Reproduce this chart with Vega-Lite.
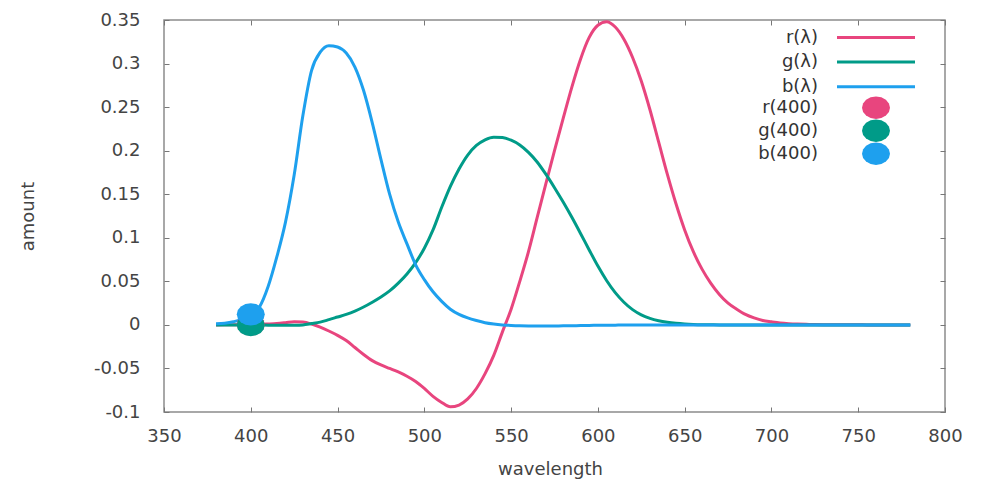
{
  "$schema": "https://vega.github.io/schema/vega-lite/v6.json",
  "width": 781,
  "height": 392,
  "autosize": "none",
  "padding": {"left": 164, "top": 20, "right": 39, "bottom": 70},
  "background": "white",
  "config": {
    "view": {"stroke": "#8c8c8c", "strokeWidth": 1.5},
    "font": "DejaVu Sans",
    "axis": {"domain": false, "grid": false, "tickColor": "#777", "tickWidth": 1, "tickSize": -5, "labelFont": "DejaVu Sans", "labelFontSize": 18, "labelColor": "#444", "titleFont": "DejaVu Sans", "titleFontSize": 18, "titleColor": "#444", "titleFontWeight": "normal", "labelFlush": false, "labelOverlap": false},
    "legend": {"title": null, "orient": "none", "padding": 0, "labelFont": "DejaVu Sans", "labelFontSize": 18, "labelColor": "#333", "labelAlign": "right", "labelLimit": 0}
  },
  "datasets": {
    "cmf": [
      {"w":380,"r":0.0000,"g":0.0000,"b":0.0012},
      {"w":385,"r":0.0001,"g":0.0000,"b":0.0019},
      {"w":390,"r":0.0001,"g":0.0000,"b":0.0036},
      {"w":395,"r":0.0002,"g":-0.0001,"b":0.0065},
      {"w":400,"r":0.0003,"g":-0.0001,"b":0.0121},
      {"w":405,"r":0.0005,"g":-0.0002,"b":0.0205},
      {"w":410,"r":0.0010,"g":-0.0003,"b":0.0440},
      {"w":415,"r":0.0016,"g":-0.0004,"b":0.0780},
      {"w":420,"r":0.0025,"g":-0.0005,"b":0.1180},
      {"w":425,"r":0.0035,"g":-0.0004,"b":0.1720},
      {"w":430,"r":0.0032,"g":0.0000,"b":0.2400},
      {"w":435,"r":0.0010,"g":0.0015,"b":0.2920},
      {"w":440,"r":-0.0026,"g":0.0032,"b":0.3130},
      {"w":445,"r":-0.0070,"g":0.0060,"b":0.3205},
      {"w":450,"r":-0.0120,"g":0.0090,"b":0.3190},
      {"w":455,"r":-0.0180,"g":0.0120,"b":0.3120},
      {"w":460,"r":-0.0260,"g":0.0158,"b":0.2960},
      {"w":465,"r":-0.0340,"g":0.0205,"b":0.2690},
      {"w":470,"r":-0.0410,"g":0.0260,"b":0.2320},
      {"w":475,"r":-0.0460,"g":0.0320,"b":0.1900},
      {"w":480,"r":-0.0500,"g":0.0390,"b":0.1500},
      {"w":485,"r":-0.0540,"g":0.0480,"b":0.1180},
      {"w":490,"r":-0.0590,"g":0.0585,"b":0.0930},
      {"w":495,"r":-0.0650,"g":0.0715,"b":0.0690},
      {"w":500,"r":-0.0730,"g":0.0880,"b":0.0520},
      {"w":505,"r":-0.0820,"g":0.1090,"b":0.0380},
      {"w":510,"r":-0.0890,"g":0.1350,"b":0.0270},
      {"w":515,"r":-0.0940,"g":0.1590,"b":0.0180},
      {"w":520,"r":-0.0920,"g":0.1790,"b":0.0120},
      {"w":525,"r":-0.0850,"g":0.1950,"b":0.0080},
      {"w":530,"r":-0.0730,"g":0.2060,"b":0.0050},
      {"w":535,"r":-0.0560,"g":0.2125,"b":0.0025},
      {"w":540,"r":-0.0350,"g":0.2155,"b":0.0010},
      {"w":545,"r":-0.0080,"g":0.2150,"b":0.0000},
      {"w":550,"r":0.0180,"g":0.2120,"b":-0.0006},
      {"w":555,"r":0.0500,"g":0.2065,"b":-0.0010},
      {"w":560,"r":0.0840,"g":0.1980,"b":-0.0012},
      {"w":565,"r":0.1230,"g":0.1870,"b":-0.0013},
      {"w":570,"r":0.1620,"g":0.1730,"b":-0.0013},
      {"w":575,"r":0.2000,"g":0.1575,"b":-0.0012},
      {"w":580,"r":0.2370,"g":0.1410,"b":-0.0011},
      {"w":585,"r":0.2730,"g":0.1235,"b":-0.0009},
      {"w":590,"r":0.3050,"g":0.1050,"b":-0.0008},
      {"w":595,"r":0.3300,"g":0.0860,"b":-0.0006},
      {"w":600,"r":0.3440,"g":0.0675,"b":-0.0005},
      {"w":605,"r":0.3480,"g":0.0510,"b":-0.0004},
      {"w":610,"r":0.3420,"g":0.0370,"b":-0.0003},
      {"w":615,"r":0.3280,"g":0.0260,"b":-0.0002},
      {"w":620,"r":0.3070,"g":0.0175,"b":-0.0002},
      {"w":625,"r":0.2800,"g":0.0115,"b":-0.0001},
      {"w":630,"r":0.2470,"g":0.0075,"b":-0.0001},
      {"w":635,"r":0.2100,"g":0.0048,"b":-0.0001},
      {"w":640,"r":0.1730,"g":0.0030,"b":0.0000},
      {"w":645,"r":0.1390,"g":0.0018,"b":0.0000},
      {"w":650,"r":0.1090,"g":0.0010,"b":0.0000},
      {"w":655,"r":0.0840,"g":0.0005,"b":0.0000},
      {"w":660,"r":0.0640,"g":0.0002,"b":0.0000},
      {"w":665,"r":0.0480,"g":0.0001,"b":0.0000},
      {"w":670,"r":0.0350,"g":0.0000,"b":0.0000},
      {"w":675,"r":0.0250,"g":0.0000,"b":0.0000},
      {"w":680,"r":0.0180,"g":0.0000,"b":0.0000},
      {"w":685,"r":0.0120,"g":0.0000,"b":0.0000},
      {"w":690,"r":0.0080,"g":0.0000,"b":0.0000},
      {"w":695,"r":0.0050,"g":0.0000,"b":0.0000},
      {"w":700,"r":0.0035,"g":0.0000,"b":0.0000},
      {"w":705,"r":0.0022,"g":0.0000,"b":0.0000},
      {"w":710,"r":0.0014,"g":0.0000,"b":0.0000},
      {"w":715,"r":0.0009,"g":0.0000,"b":0.0000},
      {"w":720,"r":0.0006,"g":0.0000,"b":0.0000},
      {"w":725,"r":0.0004,"g":0.0000,"b":0.0000},
      {"w":730,"r":0.0003,"g":0.0000,"b":0.0000},
      {"w":735,"r":0.0002,"g":0.0000,"b":0.0000},
      {"w":740,"r":0.0001,"g":0.0000,"b":0.0000},
      {"w":745,"r":0.0001,"g":0.0000,"b":0.0000},
      {"w":750,"r":0.0001,"g":0.0000,"b":0.0000},
      {"w":755,"r":0.0000,"g":0.0000,"b":0.0000},
      {"w":760,"r":0.0000,"g":0.0000,"b":0.0000},
      {"w":765,"r":0.0000,"g":0.0000,"b":0.0000},
      {"w":770,"r":0.0000,"g":0.0000,"b":0.0000},
      {"w":775,"r":0.0000,"g":0.0000,"b":0.0000},
      {"w":780,"r":0.0000,"g":0.0000,"b":0.0000}
    ],
    "pts": [
      {"w":400,"ch":"r400","amount":0.0003},
      {"w":400,"ch":"g400","amount":-0.0001},
      {"w":400,"ch":"b400","amount":0.0121}
    ]
  },
  "layer": [
    {
      "data": {"name": "cmf"},
      "transform": [{"fold": ["r", "g", "b"], "as": ["ch", "amount"]}],
      "mark": {"type": "line", "strokeWidth": 3, "interpolate": "monotone"},
      "encoding": {
        "x": {"field": "w", "type": "quantitative", "scale": {"domain": [350, 800], "nice": false, "zero": false},
              "axis": {"orient": "bottom", "title": "wavelength", "values": [350,400,450,500,550,600,650,700,750,800], "labelPadding": 20, "titleX": 386, "titleY": 57, "titleBaseline": "middle"}},
        "y": {"field": "amount", "type": "quantitative", "scale": {"domain": [-0.1, 0.35], "nice": false, "zero": false},
              "axis": {"orient": "left", "title": "amount", "values": [-0.1,-0.05,0,0.05,0.1,0.15,0.2,0.25,0.3,0.35], "labelExpr": "(datum.value < 0 ? '-' : '') + format(abs(datum.value), '~g')", "labelPadding": 29, "titleX": -136, "titleY": 196, "titleBaseline": "middle", "titleAngle": -90}},
        "stroke": {"field": "ch", "type": "nominal",
          "scale": {"domain": ["r", "g", "b"], "range": ["#e8457e", "#009b88", "#1ea0ee"]},
          "legend": {"legendX": 703, "legendY": 8.5, "rowPadding": 6.6,
            "labelExpr": "datum.value + '(λ)'", "labelOffset": -67,
            "symbolType": "M-6,0L6,0", "symbolSize": 169, "symbolStrokeWidth": 3}
        }
      }
    },
    {
      "data": {"name": "pts"},
      "mark": {"type": "point", "filled": true, "size": 784, "opacity": 1, "strokeWidth": 0, "shape": "M1,0L0.924,0.306L0.707,0.566L0.383,0.739L0,0.8L-0.383,0.739L-0.707,0.566L-0.924,0.306L-1,0L-0.924,-0.306L-0.707,-0.566L-0.383,-0.739L0,-0.8L0.383,-0.739L0.707,-0.566L0.924,-0.306Z"},
      "encoding": {
        "x": {"field": "w", "type": "quantitative", "axis": {"orient": "top", "labels": false, "title": null, "values": [350,400,450,500,550,600,650,700,750,800]}},
        "y": {"field": "amount", "type": "quantitative", "axis": {"orient": "right", "labels": false, "title": null, "values": [-0.1,-0.05,0,0.05,0.1,0.15,0.2,0.25,0.3,0.35]}},
        "fill": {"field": "ch", "type": "nominal",
          "scale": {"domain": ["r400", "g400", "b400"], "range": ["#e8457e", "#009b88", "#1ea0ee"]},
          "legend": {"legendX": 703, "legendY": 78.7, "rowPadding": -1,
            "labelExpr": "substring(datum.value, 0, 1) + '(400)'", "labelOffset": -67,
            "symbolType": "M2,0L1.848,0.612L1.414,1.132L0.766,1.478L0,1.6L-0.766,1.478L-1.414,1.132L-1.848,0.612L-2,0L-1.848,-0.612L-1.414,-1.132L-0.766,-1.478L0,-1.6L0.766,-1.478L1.414,-1.132L1.848,-0.612Z", "symbolSize": 196, "symbolStrokeWidth": 0}
        }
      }
    }
  ],
  "resolve": {"axis": {"x": "independent", "y": "independent"}}
}
